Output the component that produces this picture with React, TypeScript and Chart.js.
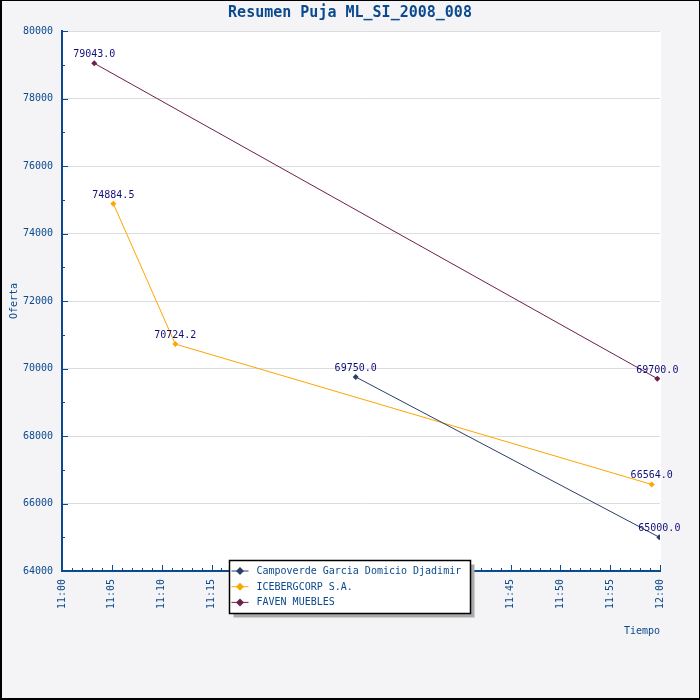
import React, { useRef, useEffect } from 'react';
import { Chart, registerables } from 'chart.js';

Chart.register(...registerables);

const FONT = "'DejaVu Sans Mono', monospace";
const BLUE = '#0b4a8e';
const LABEL = '#10107a';
const GRID = '#dcdcdc';
const BG = '#f4f4f6';

const TITLE = 'Resumen Puja ML_SI_2008_008';
const Y_TITLE = 'Oferta';
const X_TITLE = 'Tiempo';

// series
const SERIES_NAMES = ['Campoverde Garcia Domicio Djadimir', 'ICEBERGCORP S.A.', 'FAVEN MUEBLES'];
const SERIES_COLORS = ['#2a3f6a', '#ffa500', '#6e1f4f'];

const CAMPOVERDE_TIMES = ['11:29:28', '11:59:56'];
const CAMPOVERDE_VALUES = [69750.0, 65000.0];
const ICEBERG_TIMES = ['11:05:09', '11:11:22', '11:59:10'];
const ICEBERG_VALUES = [74884.5, 70724.2, 66564.0];
const FAVEN_TIMES = ['11:03:14', '11:59:44'];
const FAVEN_VALUES = [79043.0, 69700.0];

// axes
const X_TICK_LABELS = ['11:00', '11:05', '11:10', '11:15', '11:20', '11:25', '11:30', '11:35', '11:40', '11:45', '11:50', '11:55', '12:00'];
const Y_MIN = 64000;
const Y_MAX = 80000;
const Y_STEP = 2000;

// minutes after 11:00
function toMin(t: string): number {
  const [h, m, s] = t.split(':').map(Number);
  return (h - 11) * 60 + m + (s || 0) / 60;
}

function points(times: string[], values: number[]) {
  return times.map((t, i) => ({ x: toMin(t), y: values[i] }));
}

const bgPlugin = {
  id: 'bg',
  beforeDraw(chart: any) {
    const { ctx, chartArea: a, width, height } = chart;
    ctx.save();
    ctx.fillStyle = BG;
    ctx.fillRect(0, 0, width, height);
    ctx.fillStyle = '#fff';
    ctx.fillRect(a.left, a.top, a.right - a.left + 1, a.bottom - a.top);
    ctx.restore();
  },
  afterDraw(chart: any) {
    const { ctx, width, height } = chart;
    ctx.save();
    ctx.strokeStyle = '#000';
    ctx.lineWidth = 1;
    ctx.strokeRect(0.5, 0.5, width - 1, height - 1);
    ctx.fillStyle = '#000';
    ctx.fillRect(0, 0, 2, height);
    ctx.fillRect(0, height - 2, width, 2);
    ctx.restore();
  },
};

// inward tick marks, long on labelled values, short on the minor ones
const tickPlugin = {
  id: 'inTicks',
  afterDatasetsDraw(chart: any) {
    const { ctx, scales } = chart;
    const x = scales.x, y = scales.y;
    ctx.save();
    ctx.strokeStyle = BLUE;
    ctx.lineWidth = 1;
    ctx.beginPath();
    for (let v = x.min; v <= x.max; v += 1) {
      const px = Math.round(x.getPixelForValue(v)) + 0.5;
      const len = v % 5 === 0 ? 6 : 3;
      ctx.moveTo(px, y.bottom);
      ctx.lineTo(px, y.bottom - len);
    }
    for (let v = y.min; v <= y.max; v += Y_STEP / 2) {
      const py = Math.round(y.getPixelForValue(v)) + 0.5;
      const len = v % Y_STEP === 0 ? 6 : 3;
      ctx.moveTo(x.left, py);
      ctx.lineTo(x.left + len, py);
    }
    ctx.stroke();
    ctx.restore();
  },
};

const valuePlugin = {
  id: 'values',
  afterDatasetsDraw(chart: any) {
    const { ctx } = chart;
    ctx.save();
    ctx.font = `10px ${FONT}`;
    ctx.fillStyle = LABEL;
    ctx.textAlign = 'center';
    ctx.textBaseline = 'alphabetic';
    chart.data.datasets.forEach((ds: any, i: number) => {
      const meta = chart.getDatasetMeta(i);
      meta.data.forEach((pt: any, j: number) => {
        ctx.fillText(ds.data[j].y.toFixed(1), pt.x, pt.y - 6);
      });
    });
    ctx.restore();
  },
};

const textPlugin = {
  id: 'texts',
  afterDraw(chart: any) {
    const { ctx, chartArea: a, width } = chart;
    ctx.save();
    ctx.fillStyle = BLUE;
    ctx.font = `bold 15px ${FONT}`;
    ctx.textAlign = 'center';
    ctx.textBaseline = 'middle';
    ctx.fillText(TITLE, width / 2, 13);

    ctx.font = `10px ${FONT}`;
    ctx.textAlign = 'right';
    ctx.fillText(X_TITLE, a.right, 631);

    ctx.translate(14, (a.top + a.bottom) / 2);
    ctx.rotate(-Math.PI / 2);
    ctx.textAlign = 'center';
    ctx.fillText(Y_TITLE, 0, 0);
    ctx.restore();
  },
};

const legendPlugin = {
  id: 'legendBox',
  afterDraw(chart: any) {
    const { ctx } = chart;
    const bx = 229.5, by = 560.5, bw = 241, bh = 53;
    ctx.save();
    ctx.fillStyle = '#aaaaaa';
    ctx.fillRect(bx + 4, by + 4, bw, bh);
    ctx.fillStyle = '#fff';
    ctx.fillRect(bx, by, bw, bh);
    ctx.strokeStyle = '#000';
    ctx.lineWidth = 1.5;
    ctx.strokeRect(bx, by, bw, bh);
    ctx.font = `10px ${FONT}`;
    ctx.textBaseline = 'middle';
    ctx.textAlign = 'left';
    chart.data.datasets.forEach((ds: any, i: number) => {
      const cy = by + 10.5 + i * 15.7;
      ctx.strokeStyle = ds.borderColor;
      ctx.lineWidth = 1;
      ctx.beginPath();
      ctx.moveTo(bx + 2, cy);
      ctx.lineTo(bx + 19, cy);
      ctx.stroke();
      ctx.fillStyle = ds.borderColor;
      ctx.beginPath();
      ctx.moveTo(bx + 10.5, cy - 4);
      ctx.lineTo(bx + 14.5, cy);
      ctx.lineTo(bx + 10.5, cy + 4);
      ctx.lineTo(bx + 6.5, cy);
      ctx.closePath();
      ctx.fill();
      ctx.fillStyle = BLUE;
      ctx.fillText(ds.label, bx + 27, cy + 0.5);
    });
    ctx.restore();
  },
};

const App: React.FC = () => {
  const ref = useRef<HTMLCanvasElement>(null);

  useEffect(() => {
    if (!ref.current) return;
    const allPoints = [
      points(CAMPOVERDE_TIMES, CAMPOVERDE_VALUES),
      points(ICEBERG_TIMES, ICEBERG_VALUES),
      points(FAVEN_TIMES, FAVEN_VALUES),
    ];
    const datasets = allPoints.map((data, i) => ({
      label: SERIES_NAMES[i],
      data,
      borderColor: SERIES_COLORS[i],
      backgroundColor: SERIES_COLORS[i],
      borderWidth: 1,
      pointStyle: 'rectRot' as const,
      pointRadius: 3,
      pointBorderWidth: 0,
      tension: 0,
    }));

    const chart = new Chart(ref.current, {
      type: 'line',
      data: { datasets },
      plugins: [bgPlugin, tickPlugin, valuePlugin, textPlugin, legendPlugin],
      options: {
        animation: false,
        responsive: true,
        maintainAspectRatio: false,
        layout: { padding: { top: 31, right: 40, left: 0, bottom: 0 } },
        font: { family: FONT, size: 10 },
        plugins: {
          legend: { display: false },
          title: { display: false },
          tooltip: { enabled: false },
        },
        scales: {
          x: {
            type: 'linear',
            min: 0,
            max: 60,
            afterFit: (s: any) => { s.height = 129; },
            grid: { display: false, drawTicks: false },
            border: { display: true, color: BLUE, width: 2 },
            ticks: {
              stepSize: 5,
              autoSkip: false,
              minRotation: 90,
              maxRotation: 90,
              padding: 8,
              color: BLUE,
              font: { family: FONT, size: 10 },
              callback: (v: any) => X_TICK_LABELS[Math.round(Number(v) / 5)] ?? '',
            },
          },
          y: {
            type: 'linear',
            min: Y_MIN,
            max: Y_MAX,
            afterFit: (s: any) => { s.width = 62; },
            grid: { color: GRID, lineWidth: 1, drawTicks: false },
            border: { display: true, color: BLUE, width: 2 },
            ticks: {
              stepSize: Y_STEP,
              padding: 9,
              color: BLUE,
              font: { family: FONT, size: 10 },
              callback: (v: any) => String(v),
            },
          },
        },
      } as any,
    });

    return () => chart.destroy();
  }, []);

  return (
    <div style={{ position: 'fixed', left: 0, top: 0, width: 700, height: 700 }}>
      <canvas ref={ref}></canvas>
    </div>
  );
};

export default App;
